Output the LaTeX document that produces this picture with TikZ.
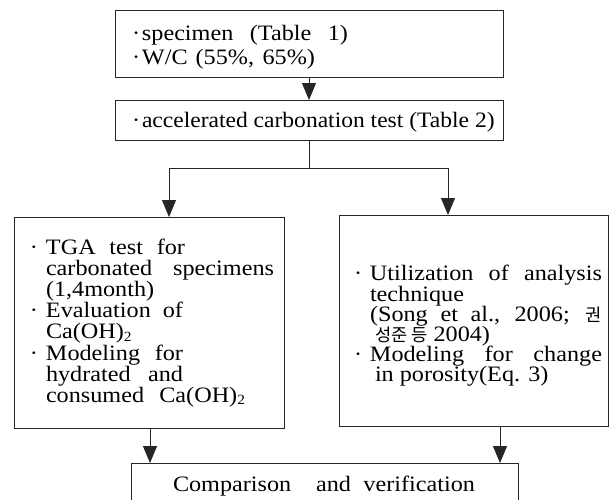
\documentclass[tikz,border=0pt]{standalone}
\usepackage{fontspec}
\setmainfont{Liberation Serif}[FakeStretch=1.1]
\newfontfamily\accfont{Liberation Serif}[FakeStretch=1.07]
\newfontfamily\kr{Noto Sans CJK KR}[Scale=0.8]
\usetikzlibrary{arrows.meta}
\newcommand{\fs}{\fontsize{22}{24}\selectfont}
\newcommand{\bul}[1]{\makebox[#1][l]{\textperiodcentered}}
\newcommand{\subtwo}{\raisebox{-2.5pt}{\fontsize{14}{14}\selectfont 2}}
\tikzset{
  boxnode/.style={draw=black!85, line width=0.9pt, inner sep=0pt, outer sep=0pt},
  txt/.style={anchor=base west, inner sep=0pt, outer sep=0pt, font=\fs},
  conn/.style={draw=black!85, line width=0.9pt},
  arr/.style={conn, -{Triangle[width=14pt,length=17pt]}}
}
\begin{document}
\begin{tikzpicture}[x=1pt,y=-1pt]
\useasboundingbox (0,0) rectangle (611,499);
\clip (0,0) rectangle (611,499);
\fill[white] (0,0) rectangle (611,499);
% boxes
\node[boxnode, minimum width=388pt, minimum height=67pt] (top) at (309,43.5) {};
\node[boxnode, minimum width=388pt, minimum height=40pt] (acc) at (309,120) {};
\node[boxnode, minimum width=270pt, minimum height=211pt] (left) at (149,322.5) {};
\node[boxnode, minimum width=269pt, minimum height=211pt] (right) at (473.5,320.5) {};
\node[boxnode, minimum width=387pt, minimum height=70pt] (bot) at (324.5,498) {};
% coordinates for connectors
\coordinate (jL) at (169,168);
\coordinate (jR) at (448,168);
\coordinate (dL) at (150,0);
\coordinate (dR) at (500,0);
% connectors
\draw[arr] (top.south) -- (acc.north);
\draw[conn] (acc.south) -- (acc.south |- jL);
\draw[conn] (jL) -- (jR);
\draw[arr] (jL) -- (jL |- left.north);
\draw[arr] (jR) -- (jR |- right.north);
\draw[arr] (dL |- left.south) -- (dL |- bot.north);
\draw[arr] (dR |- right.south) -- (dR |- bot.north);
% top box text
\node[txt] (t1) at (132,40) {\bul{10pt}\makebox[206pt][s]{specimen\ (Table 1)}};
\node[txt] (t2) at (132,64) {\bul{10pt}\makebox[173pt][s]{W/C (55\%, 65\%)}};
% acc box text
\node[txt] (a1) at (132,127) {\bul{10pt}{\accfont accelerated carbonation test (Table 2)}};
% left box text
\node[txt] (l1) at (30,254) {\bul{16pt}\makebox[139pt][s]{TGA test for}};
\node[txt] (l2) at (46,275) {\makebox[228pt][s]{carbonated specimens}};
\node[txt] (l3) at (46,296.4) {(1,4month)};
\node[txt] (l4) at (30,317.6) {\bul{16pt}\makebox[137pt][s]{Evaluation of}};
\node[txt] (l5) at (46,338.8) {Ca(OH)\subtwo};
\node[txt] (l6) at (30,360) {\bul{16pt}\makebox[137pt][s]{Modeling for}};
\node[txt] (l7) at (46,381) {\makebox[137pt][s]{hydrated and}};
\node[txt] (l8) at (46,402.4) {\makebox[199pt][s]{consumed Ca(OH)\subtwo}};
% right box text
\node[txt] (r1) at (354,280) {\bul{16pt}\makebox[232pt][s]{Utilization of analysis}};
\node[txt] (r2) at (370,301) {technique};
\node[txt] (r3) at (370,321) {\makebox[232pt][s]{(Song et al., 2006; {\kr 권}}};
\node[txt] (r4) at (375,341) {{\kr 성준 등} 2004)};
\node[txt] (r5) at (354,361) {\bul{16pt}\makebox[232pt][s]{Modeling for change}};
\node[txt] (r6) at (375,381) {in porosity(Eq. 3)};
% bottom box text
\node[txt] (b1) at (173,491) {\makebox[302pt][s]{Comparison\ \ and verification}};
\end{tikzpicture}
\end{document}
